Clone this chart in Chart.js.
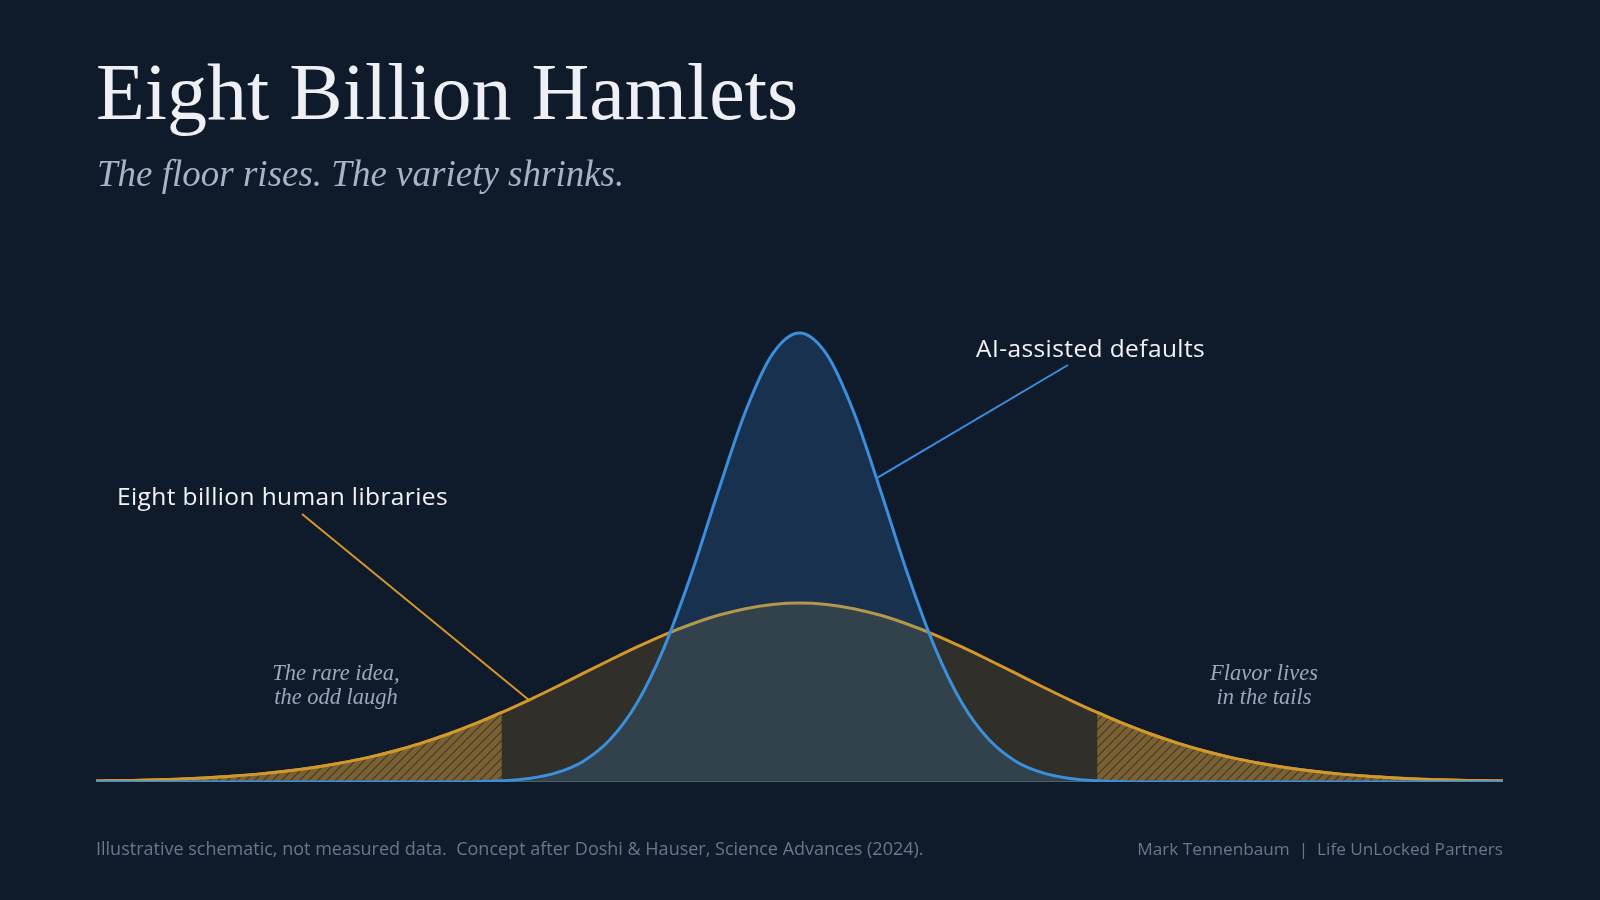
<!DOCTYPE html>
<html>
<head>
<meta charset="utf-8">
<title>Eight Billion Hamlets</title>
<script src="https://cdn.jsdelivr.net/npm/chart.js@4.4.1/dist/chart.umd.min.js"></script>
<style>
  html, body { margin: 0; padding: 0; background: #0f1a2b; }
  #wrap { position: relative; width: 1600px; height: 900px; overflow: hidden; }
  #wrap canvas { position: absolute; left: 0; top: 0; }
  .txt { position: absolute; white-space: nowrap; }
  .title { left: 96px; top: 52px; font: 400 80px/1 "Liberation Serif", serif; color: #eef0f5; }
  .subtitle { left: 97px; top: 155px; font: italic 400 37px/1 "Liberation Serif", serif; color: #a7b3c6; }
  .label { font: 500 24.5px/1 "Open Sans", sans-serif; letter-spacing: 0.4px; color: #f2f4f8; }
  .note { width: 300px; text-align: center; font: italic 400 22.5px/23.5px "Liberation Serif", serif; color: #9ba8ba; }
  .foot { font: 400 18px/1 "Open Sans", sans-serif; color: #6a778a; }
</style>
</head>
<body>
<div id="wrap">
  <canvas id="bell" width="1600" height="900"></canvas>
  <div class="txt title">Eight Billion Hamlets</div>
  <div class="txt subtitle">The floor rises. The variety shrinks.</div>
  <div class="txt label" style="left:117px; top:484px;">Eight billion human libraries</div>
  <div class="txt label" style="left:976px; top:336px;">AI-assisted defaults</div>
  <div class="txt note" style="left:186px; top:661px;">The rare idea,<br>the odd laugh</div>
  <div class="txt note" style="left:1114px; top:661px;">Flavor lives<br>in the tails</div>
  <div class="txt foot" style="left:96px; top:839px;">Illustrative schematic, not measured data.&nbsp; Concept after Doshi &amp; Hauser, Science Advances (2024).</div>
  <div class="txt foot" style="right:97px; top:840px; font-size:17.2px;">Mark Tennenbaum &nbsp;|&nbsp; Life UnLocked Partners</div>
</div>
<script>
// positions along the idea axis (in human spreads)
var xs = [-3.25, -3.125, -3, -2.875, -2.75, -2.625, -2.5, -2.375, -2.25, -2.125,
  -2, -1.875, -1.75, -1.625, -1.5, -1.375, -1.25, -1.125, -1, -0.875,
  -0.75, -0.625, -0.5, -0.375, -0.25, -0.125, 0, 0.125, 0.25, 0.375,
  0.5, 0.625, 0.75, 0.875, 1, 1.125, 1.25, 1.375, 1.5, 1.625,
  1.75, 1.875, 2, 2.125, 2.25, 2.375, 2.5, 2.625, 2.75, 2.875,
  3, 3.125, 3.25];

// eight billion human libraries
var human = [0.5, 0.8, 1.1, 1.6, 2.3, 3.2, 4.4, 6.0, 8.0, 10.5,
  13.5, 17.2, 21.6, 26.7, 32.5, 38.9, 45.8, 53.1, 60.7, 68.2,
  75.5, 82.3, 88.2, 93.2, 96.9, 99.2, 100, 99.2, 96.9, 93.2,
  88.2, 82.3, 75.5, 68.2, 60.7, 53.1, 45.8, 38.9, 32.5, 26.7,
  21.6, 17.2, 13.5, 10.5, 8.0, 6.0, 4.4, 3.2, 2.3, 1.6,
  1.1, 0.8, 0.5];

// AI-assisted defaults
var ai = [0, 0, 0, 0, 0, 0, 0, 0, 0, 0,
  0, 0, 0, 0, 0.2, 0.7, 2.0, 5.1, 11.5, 23.7,
  44.3, 75.3, 116.1, 162.7, 207.0, 239.2, 251, 239.2, 207.0, 162.7,
  116.1, 75.3, 44.3, 23.7, 11.5, 5.1, 2.0, 0.7, 0.2, 0,
  0, 0, 0, 0, 0, 0, 0, 0, 0, 0,
  0, 0, 0];

var tailCut = 1.375;

var ORANGE = '#d3982a';
var BLUE = '#3b8fdc';

function pts(vals, keep) {
  var out = [];
  xs.forEach(function (x, i) {
    if (!keep || keep(x)) out.push({ x: x, y: vals[i] });
  });
  return out;
}

// hatch for the tails
var tile = document.createElement('canvas');
tile.width = 9; tile.height = 9;
var t = tile.getContext('2d');
t.fillStyle = '#7b6131';
t.fillRect(0, 0, 9, 9);
t.strokeStyle = '#3f3a2f';
t.lineWidth = 1.2;
t.beginPath();
t.moveTo(-1, 10); t.lineTo(10, -1);
t.moveTo(-1, 1); t.lineTo(1, -1);
t.moveTo(8, 10); t.lineTo(10, 8);
t.stroke();
var hatch = document.getElementById('bell').getContext('2d').createPattern(tile, 'repeat');

var leaders = {
  id: 'leaders',
  afterDatasetsDraw: function (chart) {
    var c = chart.ctx, sx = chart.scales.x, sy = chart.scales.y;
    var hi = xs.indexOf(-1.25);
    // blue leader meets the AI curve between two samples
    var a0 = xs.indexOf(0.25), f = (0.355 - xs[a0]) / (xs[a0 + 1] - xs[a0]);
    var aiY = ai[a0] + (ai[a0 + 1] - ai[a0]) * f;
    c.save();
    c.lineWidth = 2;
    c.strokeStyle = ORANGE;
    c.beginPath();
    c.moveTo(302, 514);
    c.lineTo(sx.getPixelForValue(xs[hi]), sy.getPixelForValue(human[hi]));
    c.stroke();
    c.strokeStyle = BLUE;
    c.beginPath();
    c.moveTo(1068, 365);
    c.lineTo(sx.getPixelForValue(0.355), sy.getPixelForValue(aiY));
    c.stroke();
    c.restore();
  }
};

new Chart(document.getElementById('bell'), {
  type: 'line',
  data: {
    datasets: [
      {
        data: pts(ai),
        borderColor: BLUE,
        borderWidth: 3,
        backgroundColor: 'rgba(59,143,220,0.2)',
        fill: 'origin',
        order: 1
      },
      {
        data: pts(human, function (x) { return x <= -tailCut; }),
        borderColor: ORANGE,
        borderWidth: 3,
        backgroundColor: hatch,
        fill: 'origin',
        order: 2
      },
      {
        data: pts(human, function (x) { return x >= tailCut; }),
        borderColor: ORANGE,
        borderWidth: 3,
        backgroundColor: hatch,
        fill: 'origin',
        order: 2
      },
      {
        data: pts(human),
        borderColor: ORANGE,
        borderWidth: 3,
        backgroundColor: 'rgba(211,152,42,0.17)',
        fill: 'origin',
        order: 3
      },
      {
        data: [{ x: xs[0], y: 0 }, { x: xs[xs.length - 1], y: 0 }],
        borderColor: '#34475a',
        borderWidth: 2,
        fill: false,
        order: 4
      }
    ]
  },
  options: {
    responsive: false,
    animation: false,
    layout: { padding: { left: 96, right: 97, top: 299, bottom: 118 } },
    elements: {
      point: { radius: 0 },
      line: { cubicInterpolationMode: 'monotone' }
    },
    scales: {
      x: { type: 'linear', min: -3.25, max: 3.25, display: false },
      y: { min: 0, max: 270, display: false }
    },
    plugins: {
      legend: { display: false },
      tooltip: { enabled: false }
    }
  },
  plugins: [leaders]
});
</script>
</body>
</html>
